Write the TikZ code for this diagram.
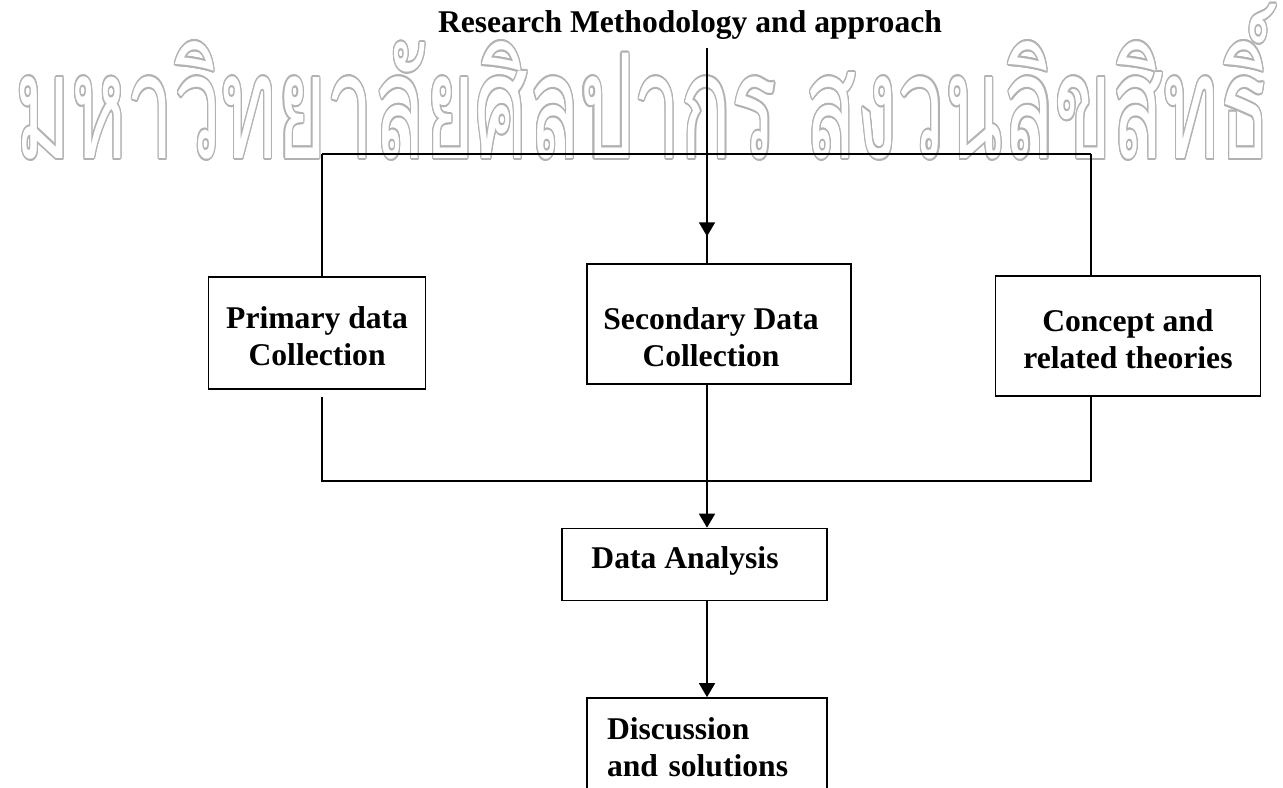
\documentclass[tikz,border=0pt]{standalone}
\usepackage{fontspec}
\setmainfont{Liberation Serif}
\newfontfamily\thaifont[Script=Thai]{Loma}
\usepackage{graphicx}
\usepackage{contour}
\contourlength{0.8pt}
\contournumber{16}
\usetikzlibrary{positioning}
\usetikzlibrary{calc}
\usetikzlibrary{arrows.meta}
\usetikzlibrary{decorations.markings}

\begin{document}
\begin{tikzpicture}[x=0.02cm, y=-0.02cm, line width=0.85pt,
    box/.style={draw, inner sep=0pt},
    boxtext/.style={align=center, inner sep=0pt, font=\bfseries\fontsize{18}{21}\selectfont},
    flow/.style={-{Triangle[width=0.32cm,length=0.28cm]}},
    midflow/.style={postaction={decorate}, decoration={markings, mark=at position #1 with {\arrow{Triangle[width=0.32cm,length=0.28cm]}}}}]

    \useasboundingbox (0,0) rectangle (1283,787);

    % watermark
    \node[anchor=south west, inner sep=0pt] (wm) at (15,162) {\resizebox*{25.1cm}{3.14cm}{\thaifont\fontsize{60}{60}\selectfont\color{white}\contour{black!30}{มหาวิทยาลัยศิลปากร สงวนลิขสิทธิ์}}};

    \node[boxtext, anchor=base] (t) at (690,33) {Research Methodology and approach};

    \node[box, minimum width=5.28cm, minimum height=2.40cm,
        label={[boxtext, xshift=-0.16cm, yshift=-0.26cm]center:Secondary Data\\Collection}] (s) at (719,324) {};
    \node[box, minimum width=4.34cm, minimum height=2.24cm, left=3.2cm of s, yshift=-0.18cm,
        label={[boxtext, yshift=-0.07cm]center:Primary data\\Collection}] (p) {};
    \node[box, minimum width=5.30cm, minimum height=2.40cm, right=2.86cm of s, yshift=-0.24cm,
        label={[boxtext, yshift=-0.06cm]center:Concept and\\related theories}] (c) {};
    \node[box, minimum width=5.30cm, minimum height=1.44cm, below=2.86cm of s, xshift=-0.49cm,
        label={[boxtext, xshift=-0.19cm, yshift=0.08cm]center:Data Analysis}] (d) {};
    \node[box, boxtext, text width=4cm, align=left, inner xsep=0.4cm, inner ysep=0.4cm, below=1.92cm of d, xshift=0.25cm] (e) {Discussion\\and solutions};

    \coordinate (ax) at (707,48);
    \coordinate (tl) at (322,154);
    \coordinate (tr) at (1091,154);
    \coordinate (bl) at (322,481);
    \coordinate (br) at (1091,481);

    % bracket round the three sources
    \draw (tl) -- (tr);
    \draw (tl) -- (tl |- p.north);
    \draw (tr) -- (tr |- c.north);
    \draw ([yshift=-0.14cm]bl |- p.south) -- (bl) -- (br) -- (br |- c.south);

    \draw[midflow=0.875] (ax) -- (ax |- s.north);
    \draw[flow] (ax |- s.south) -- (ax |- d.north);
    \draw[flow] (ax |- d.south) -- (ax |- e.north);

\end{tikzpicture}
\end{document}
